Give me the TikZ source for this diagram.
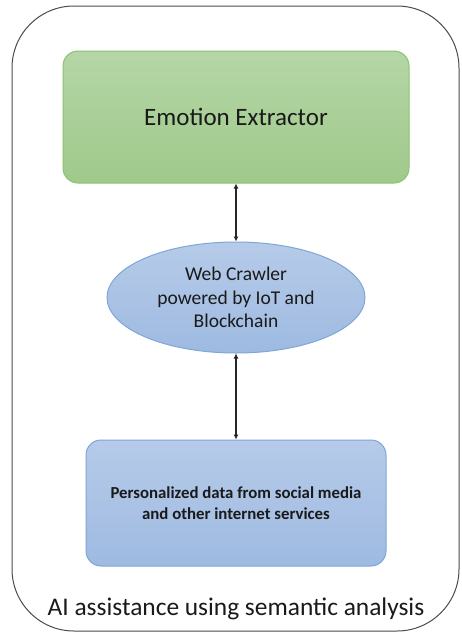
\documentclass[tikz,border=0pt]{standalone}
\usepackage{fontspec}
\setmainfont{Carlito}
\usetikzlibrary{shapes.geometric,arrows.meta}
\definecolor{gtop}{HTML}{B5D6A6}
\definecolor{gbot}{HTML}{9FC98B}
\definecolor{gline}{HTML}{8DC26F}
\definecolor{btop}{HTML}{B6CBE9}
\definecolor{bbot}{HTML}{9EBAE1}
\definecolor{bline}{HTML}{7FA7D6}
\definecolor{txt}{HTML}{1A1A1A}
\tikzset{
  greenbox/.style={draw=gline, line width=1pt, rounded corners=15pt, top color=gtop, bottom color=gbot, text=txt},
  bluebox/.style={draw=bline, line width=1pt, rounded corners=15pt, top color=btop, bottom color=bbot, text=txt},
  blueell/.style={ellipse, draw=bline, line width=1pt, top color=btop, bottom color=bbot, text=txt, inner sep=0pt},
  link/.style={{Latex[length=5pt,width=5pt]}-{Latex[length=5pt,width=5pt]}, line width=1.2pt, black!85},
}
\begin{document}
\begin{tikzpicture}[x=1pt,y=-1pt]
\useasboundingbox (0,0) rectangle (462,635);
\fill[white] (0,0) rectangle (462,635);
\draw[black!70, line width=1pt, rounded corners=62pt] (12,6) rectangle (459,631);
\node[greenbox, minimum width=346pt, minimum height=132pt, font=\fontsize{25}{29}\selectfont] (emo) at (236,117) {Emotion Extractor};
\node[blueell, minimum width=258pt, minimum height=111pt, align=center, font=\fontsize{19.5}{23.5}\selectfont] (web) at (236,297.5) {Web Crawler\\powered by IoT and\\Blockchain};
\node[bluebox, minimum width=300pt, minimum height=126pt, align=center, font=\bfseries\fontsize{16.8}{20.5}\selectfont] (data) at (236,503) {Personalized data from social media\\and other internet services};
\node[font=\fontsize{25.4}{28}\selectfont, text=txt] (lbl) at (236,609) {AI assistance using semantic analysis};
\draw[link] (emo.south) -- (web.north);
\draw[link] (web.south) -- (data.north);
\end{tikzpicture}
\end{document}
